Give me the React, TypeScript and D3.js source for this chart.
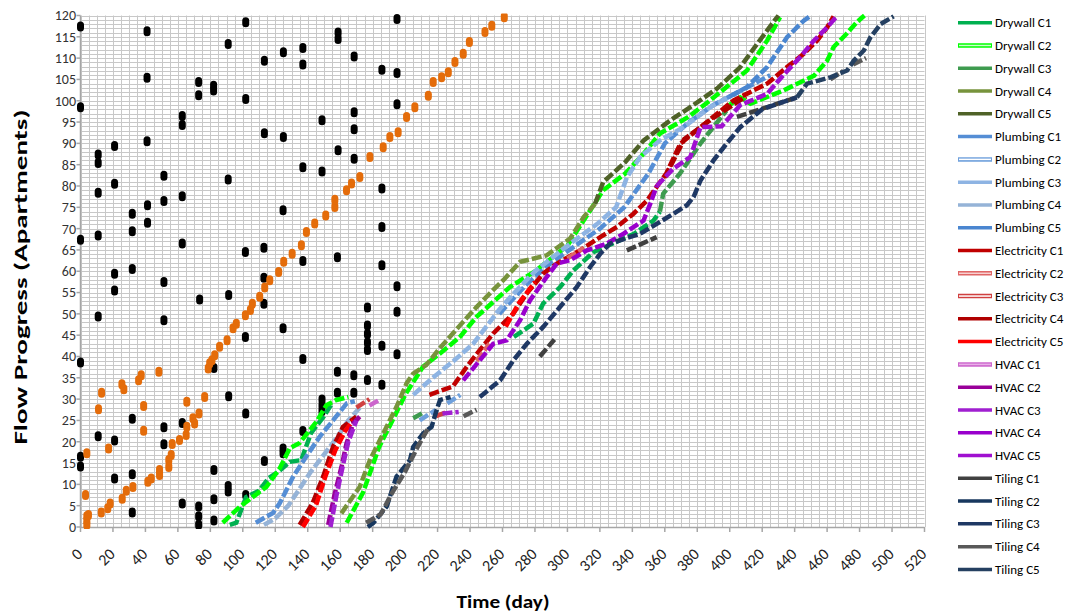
import React from 'react';
import * as d3 from 'd3';

type Pt = [number, number];

// ---------- axis ticks ----------
const xTicks: number[] = [0, 20, 40, 60, 80, 100, 120, 140, 160, 180, 200, 220, 240, 260, 280, 300, 320, 340, 360, 380, 400, 420, 440, 460, 480, 500, 520];
const yTicks: number[] = [0, 5, 10, 15, 20, 25, 30, 35, 40, 45, 50, 55, 60, 65, 70, 75, 80, 85, 90, 95, 100, 105, 110, 115, 120];

// ---------- scattered markers ----------
const blackDots: Pt[] = [
  [0, 117.4], [41, 116.3], [41, 105.4], [0, 98.5], [10.9, 87.4], [10.9, 85.4], [21, 89.4], [41, 90.5],
  [72.8, 104.4], [72.8, 101.3], [82, 103.5], [82, 102.4], [62.7, 96.4], [62.7, 94.3], [91, 113.3], [101.8, 118.4],
  [101.8, 100.4], [113.3, 109.4], [125, 111.4], [113.3, 92.4], [125, 91.5], [51.4, 82.4], [91, 81.5],
  [10.9, 78.4], [21, 80.5], [62.7, 77.6],
  [137, 112.4], [137, 108.5], [158.7, 116], [158.7, 114.5], [168.6, 110.4], [195, 119.2], [185.7, 107.3],
  [195, 106.5], [195, 99.2], [168.6, 97.3], [168.6, 93.3], [148.8, 95.4], [137, 84.4], [148.8, 83.4],
  [158.7, 88.4], [168.6, 86.4], [185.7, 79.4],
  [124.8, 74.3], [101.6, 64.5], [113, 65.5], [113, 58.5], [113, 52.4], [137, 62.4], [158.3, 63.3],
  [185.7, 70.4], [185.7, 61.4], [195, 56.5], [195, 50.5], [91.3, 54.4], [73.4, 53.4], [124.8, 46.6],
  [101.6, 44.6], [137, 39.4], [82.2, 37.3], [176.8, 51.5], [176.8, 47.3], [176.8, 45.3], [176.8, 43.3],
  [176.8, 41.5], [185.7, 42.5], [195, 40.5], [91.3, 30.7], [158.3, 36.4], [158.3, 31.5], [168.4, 35.6],
  [168.4, 31.5], [176.8, 34.5], [185.7, 33.4], [148.8, 29.9], [148.8, 28.5], [148.8, 27.2], [137, 22.5],
  [124.8, 18.4], [124.8, 17.3],
  [0, 16.5], [0, 14.2], [10.9, 21.3], [21, 20.3], [21, 11.4], [31.9, 25.4], [31.9, 12.4], [31.9, 3.4],
  [51.4, 23.4], [51.4, 19.4], [62.7, 24.4], [62.7, 5.5], [72.8, 4.8], [72.8, 2.5], [72.8, 0.5], [82.2, 13.4],
  [82.2, 6.5], [82.2, 1.5], [91, 9.6], [91, 8.3], [101.8, 26.6], [101.8, 7.5], [113.3, 15.5],
  [31.9, 73.5], [41.3, 75.5], [51.4, 76.5], [41.3, 71.4], [31.9, 69.4], [10.9, 68.4], [0, 67.4], [62.7, 66.5],
  [31.9, 60.5], [21, 59.4], [21, 55.5], [51.4, 57.5], [10.9, 49.4], [51.4, 48.5], [0, 38.6],
];

const orangeDots: Pt[] = [
  [3.1, 7.5], [3.9, 17.3], [3.9, 2.5], [3.9, 1.5], [3.9, 0.5], [4.9, 2.8], [11.1, 27.6], [13, 31.5],
  [12.8, 3.4], [16.8, 4.4], [18.3, 5.5], [17.3, 18.4], [25.7, 6.6], [28.2, 8.5], [25.5, 33.5], [26.7, 32.3],
  [32.3, 9.4], [35.8, 34.4], [37.4, 35.6], [38.9, 28.4], [38.9, 22.6], [41.5, 10.6], [43.6, 11.4], [48.3, 36.4],
  [48.7, 13.4], [48.7, 12.2], [54.4, 15.7], [54.4, 14.1], [55.9, 16.9], [56.5, 19.5], [61, 20.4], [65.1, 21.6],
  [65.5, 23.5], [65.5, 29.4], [69.3, 25.5], [70.3, 24.3], [73, 26.6], [76.5, 30.5], [78.7, 37.2], [79.6, 38.4],
  [81, 39.1], [82.7, 40.3], [85.7, 42.3], [90.3, 43.8], [94, 46.6], [96, 47.7], [101.6, 49.7], [104.7, 50.9],
  [105.9, 52.4], [110.4, 54], [113.5, 56.2], [116.6, 57.9], [122.1, 59.8], [125.2, 62.2], [130.4, 64.1],
  [136.1, 66.1], [139.2, 69.2], [144.3, 71.2], [151.1, 73.1], [156.7, 75.1], [156.7, 76.8], [163.9, 79],
  [167, 80.6], [172.1, 82.1], [178.3, 86.8], [186.5, 89.1], [190.6, 91.5], [195.7, 92.6], [200.9, 96.2],
  [206, 98.5], [214.3, 101.2], [217.3, 104.4], [222.5, 105.5], [226.6, 106.7], [230.7, 109.1], [235.8, 111],
  [239.6, 113.8], [249.2, 116.1], [253.4, 117.6], [261.1, 119.6],
];

// ---------- crew series (runs of [day, apartment]) ----------
const drywallC1: Pt[][] = [
  [[92, 0.5], [96, 1], [102, 7], [110, 8.5], [116, 11.5], [122, 13], [129, 15.3], [136, 15.7], [142, 22], [150, 26], [155, 29]],
  [[267, 44.6], [279, 47.7], [285, 52.4], [295.5, 56.3], [303.7, 60.2], [316, 64.5], [328, 66.5], [341, 68.8], [353, 71.9], [357, 74]],
];
const drywallC2: Pt[][] = [
  [[87.6, 1], [98, 4.7], [106, 7], [114.5, 9.4], [122.8, 13.8], [129, 18.5], [135, 19.7], [145.4, 24.7], [151.5, 28.6], [157.7, 29.8], [165, 30.5]],
  [[164, 1], [174, 8], [184, 18.8], [193.5, 26], [200, 31], [211, 37.6], [221.5, 40.7], [233.8, 44.6], [244, 49.3], [264.6, 56.3], [280, 60], [300, 66], [322, 79], [335.6, 82.9], [347, 87.6], [357, 92.3], [374.5, 96.2], [388, 100.1], [410.6, 107.1], [423, 114.1], [431, 119.6]],
  [[398, 98.5], [406.5, 100.8], [412.7, 99.3], [433, 102.4], [452, 105.9], [460, 109.4], [464, 112.6], [472, 115.7], [478.5, 118.5], [483, 120]],
];
const drywallC3: Pt[][] = [
  [[357, 74], [359, 78.2], [369.5, 83], [382, 90], [398, 97.7]],
  [[205, 25.5], [212, 27]],
];
const drywallC4: Pt[][] = [
  [[160.7, 3.2], [172, 9.4], [178.3, 15.7], [188.6, 23.5], [194.7, 28.2], [200.9, 33.7], [205, 36], [213, 38], [221.5, 42], [233.8, 47.3], [244, 51.6], [254, 55.5], [260.5, 57.9], [270.8, 62.2], [287, 63.7], [301.7, 67.7], [310, 72.7], [317, 75.8]],
];
const drywallC5: Pt[][] = [
  [[317, 75.8], [322, 80.9], [335.6, 85.6], [347, 90.7], [363.4, 95.4], [375.7, 98.5], [392, 102.8], [406.5, 107.9], [416.8, 113.3], [427, 118.5], [430, 120]],
];
const plumbingC1: Pt[][] = [
  [[108, 1], [118.6, 3.3], [122.8, 5.6], [131, 11.8], [139, 16.5], [147.4, 21.2], [155.6, 25], [164, 29], [169, 29.5]],
  [[258, 50], [275, 57], [290, 62], [305, 66], [320, 70], [335, 75], [350, 83], [360, 90], [375, 95], [390, 99], [410, 103], [425, 106]],
];
const plumbingC2: Pt[][] = [
  [[209, 25], [219, 27.5]],
  [[226, 29], [234, 31]],
];
const plumbingC3: Pt[][] = [
  [[205, 31], [217, 35], [230, 39], [242, 43], [250, 47], [258, 51], [265, 54], [280, 60], [300, 66], [318, 71], [330, 75], [336.6, 82], [344.8, 86.8], [357, 90.7], [371.6, 93.8], [388, 98.5], [400, 101]],
];
const plumbingC4: Pt[][] = [
  [[113, 0.5], [120, 2], [128, 5], [135, 9], [142, 13], [150, 17], [158, 21], [165, 25], [172, 28]],
];
const plumbingC5: Pt[][] = [
  [[400, 101], [410.6, 103.2], [423, 107.9], [435.3, 114.9], [445.6, 118.8], [450, 120]],
];
const electricityC1: Pt[][] = [
  [[215, 31], [229.5, 33], [238, 37.6], [246, 41.5], [254.3, 45.4], [266.7, 50.1], [275, 54.8], [285.2, 59.5], [293.5, 61.8], [307.8, 64.9], [320.2, 68], [330.5, 70.4], [340.7, 73.5], [349, 76.6], [361, 83], [369.5, 89.9], [382, 93.8], [402.4, 100.1], [423, 104], [435.3, 107.9], [445.6, 111], [453.8, 114.1], [460, 117.2], [464, 119.8]],
];
const electricityC2: Pt[][] = [
  [[244, 39], [252, 43]],
  [[300, 63], [310, 65.5]],
];
const electricityC3: Pt[][] = [
  [[170, 28], [178, 30]],
  [[219, 26], [226, 27]],
];
const electricityC4: Pt[][] = [
  [[135, 0.5], [143, 5.6], [149.5, 11.8], [155.6, 18.8], [161.8, 23.5], [170, 25.9]],
  [[360, 82], [372, 91], [390, 96], [410, 101]],
];
const electricityC5: Pt[][] = [
  [[137, 0], [145, 5], [151, 12], [157, 18], [163, 22.5], [168, 25]],
  [[262, 47], [270, 52.5], [280, 57.5]],
];
const hvacC1: Pt[][] = [
  [[178, 28.5], [185, 30]],
];
const hvacC2: Pt[][] = [
  [[152.6, 0.5], [156.7, 7.9], [160.8, 14.1], [163.9, 19.6], [168, 24.3], [172, 25.9]],
];
const hvacC3: Pt[][] = [
  [[154, 0], [158, 8], [162, 15], [165, 20], [170, 25]],
  [[223, 26.6], [233, 27]],
];
const hvacC4: Pt[][] = [
  [[235.8, 34.4], [246, 39.1], [254.3, 43], [262.6, 43.8], [270.8, 48.5], [277, 53.2], [287.3, 58.7], [293.5, 61.8], [301.7, 62.6], [312, 64.9], [324.3, 66.5], [334.6, 68.8], [346.9, 71.9], [351, 75.8], [355, 80]],
];
const hvacC5: Pt[][] = [
  [[355, 80], [365, 84], [375.7, 86.8], [382, 93.8], [395, 94], [406.5, 99], [423, 101.6], [433, 106], [443.6, 110.3], [451.8, 114.1], [460, 117.2], [466, 119.8]],
];
const tilingC1: Pt[][] = [
  [[336.6, 64.9], [355, 68]],
  [[404.4, 96.2], [441.4, 100.8]],
  [[283, 40], [292, 44]],
];
const tilingC2: Pt[][] = [
  [[177, 0], [180.3, 0.9], [188.6, 4.8], [194.7, 11.8], [203, 15.7], [205, 18.8], [211.2, 22], [216.3, 23.5], [219.4, 27.4], [221.5, 29.8], [228, 30.5]],
];
const tilingC3: Pt[][] = [
  [[246, 30.5], [254, 33], [258.5, 34.4], [266.7, 39.1], [275, 43], [285.2, 47], [295.4, 51.6], [305.8, 56.3], [314, 61], [320.2, 64.1], [326.3, 66.5], [344.8, 68.8], [365.4, 73.5], [373.6, 75.5], [377.7, 77.4], [382, 81.3], [390, 86], [398, 89.9], [406.5, 93.8], [420, 98], [441.4, 100.8]],
];
const tilingC4: Pt[][] = [
  [[176, 1], [185, 3], [192, 8], [200, 13], [208, 19], [214, 23]],
  [[236, 26], [244, 27.5]],
  [[462, 105], [470, 107]],
  [[476, 108.5], [484, 110]],
];
const tilingC5: Pt[][] = [
  [[441.4, 100.8], [447.6, 104], [462, 105.5], [472.3, 107.1], [476.4, 109.4], [482.6, 111.8], [486.7, 114.9], [493, 118], [501, 119.8]],
];

const seriesNames: string[] = [
  'Drywall C1', 'Drywall C2', 'Drywall C3', 'Drywall C4', 'Drywall C5',
  'Plumbing C1', 'Plumbing C2', 'Plumbing C3', 'Plumbing C4', 'Plumbing C5',
  'Electricity C1', 'Electricity C2', 'Electricity C3', 'Electricity C4', 'Electricity C5',
  'HVAC  C1', 'HVAC  C2', 'HVAC  C3', 'HVAC  C4', 'HVAC  C5',
  'Tiling C1', 'Tiling C2', 'Tiling C3', 'Tiling C4', 'Tiling C5',
];
const seriesData: Pt[][][] = [
  drywallC1, drywallC2, drywallC3, drywallC4, drywallC5,
  plumbingC1, plumbingC2, plumbingC3, plumbingC4, plumbingC5,
  electricityC1, electricityC2, electricityC3, electricityC4, electricityC5,
  hvacC1, hvacC2, hvacC3, hvacC4, hvacC5,
  tilingC1, tilingC2, tilingC3, tilingC4, tilingC5,
];

// styles (kept apart from data)
const seriesColors: string[] = [
  '#00B050', '#00FF00', '#3E9B4F', '#77933C', '#4F6228',
  '#558ED5', '#6FA0DC', '#8EB4E3', '#95B3D7', '#4A86D0',
  '#C00000', '#E06666', '#D04040', '#B00000', '#FF0000',
  '#CC66CC', '#990099', '#A01FD0', '#9900CC', '#A010D0',
  '#404040', '#17375E', '#1F3864', '#595959', '#254061',
];
const legendInner: (string | null)[] = [
  null, '#CCFFCC', null, null, null,
  null, '#FFFFFF', null, null, null,
  null, '#F8D0D0', '#FFFFFF', null, null,
  '#E8B0E8', null, null, null, null,
  null, null, null, null, null,
];

const FONT = "Carlito, Calibri, 'Open Sans', sans-serif";

export default function App() {
  const W = 1068, H = 614;
  const x = d3.scaleLinear().domain([0, 520]).range([80.5, 924.5]);
  const y = d3.scaleLinear().domain([0, 120]).range([527, 15.5]);
  const line = d3.line<Pt>().x(d => x(d[0])).y(d => y(d[1]));

  const vGrid = d3.range(0, 521, 5);
  const hGrid = d3.range(0, 121, 1);

  const legendY = (i: number) => 22.7 + i * 22.78;

  return (
    <svg width={W} height={H} style={{ position: 'absolute', left: 0, top: 0, background: '#fff' }} fontFamily={FONT}>
      <defs>
        <clipPath id="plot">
          <rect x={x(0) - 6} y={y(120) - 2} width={x(520) - x(0) + 12} height={y(0) - y(120) + 4} />
        </clipPath>
      </defs>
      {/* grid */}
      <g stroke="#c8c8c8" strokeWidth={1}>
        {hGrid.map(v => (
          <line key={'h' + v} x1={x(0)} x2={x(520)} y1={Math.round(y(v)) + 0.5} y2={Math.round(y(v)) + 0.5} />
        ))}
        {vGrid.map(v => (
          <line key={'v' + v} x1={Math.round(x(v)) + 0.5} x2={Math.round(x(v)) + 0.5} y1={y(120)} y2={y(0)} />
        ))}
      </g>
      {/* axes */}
      <line x1={x(0)} x2={x(520)} y1={y(0) + 0.5} y2={y(0) + 0.5} stroke="#a6a6a6" strokeWidth={1.5} />
      <line x1={x(0)} x2={x(0)} y1={y(120)} y2={y(0)} stroke="#a6a6a6" strokeWidth={1.5} />
      {xTicks.map(t => (
        <line key={'xt' + t} x1={x(t)} x2={x(t)} y1={y(0)} y2={y(0) + 5} stroke="#a6a6a6" strokeWidth={1.5} />
      ))}
      {yTicks.map(t => (
        <line key={'yt' + t} x1={x(0) - 4} x2={x(0)} y1={y(t)} y2={y(t)} stroke="#a6a6a6" strokeWidth={1.5} />
      ))}
      {/* tick labels */}
      {yTicks.map(t => (
        <text key={'yl' + t} x={76} y={y(t)} dy="0.35em" textAnchor="end" fontSize={14} fill="#333">{t}</text>
      ))}
      {xTicks.map(t => (
        <text key={'xl' + t} transform={`translate(${x(t) - 1},${551}) rotate(-45)`} dy="0.35em" textAnchor="end" fontSize={16} fill="#222">{t}</text>
      ))}
      {/* axis titles */}
      <text transform={`translate(27,${277}) rotate(-90)`} textAnchor="middle" fontSize={17} fontWeight="bold" fill="#000" textLength={335} lengthAdjust="spacingAndGlyphs">Flow Progress (Apartments)</text>
      <text x={503} y={608} textAnchor="middle" fontSize={17} fontWeight="bold" fill="#000" textLength={93} lengthAdjust="spacingAndGlyphs">Time (day)</text>

      <g clipPath="url(#plot)">
        {/* scatter markers */}
        {blackDots.map((d, i) => (
          <rect key={'b' + i} x={x(d[0]) - 3.5} y={y(d[1]) - 5} width={7} height={10} rx={3.5} fill="#000" />
        ))}
        {orangeDots.map((d, i) => (
          <rect key={'o' + i} x={x(d[0]) - 3.5} y={y(d[1]) - 5} width={7} height={10} rx={3.5} fill="#E46C0A" />
        ))}
        {/* crew series */}
        {seriesData.map((runs, si) => (
          <g key={'s' + si} fill="none" stroke={seriesColors[si]} strokeWidth={4.5} strokeDasharray="10 3">
            {runs.map((run, ri) => (
              <path key={ri} d={line(run) || ''} />
            ))}
          </g>
        ))}
      </g>

      {/* legend */}
      {seriesNames.map((name, i) => (
        <g key={'lg' + i}>
          <line x1={958} x2={992} y1={legendY(i)} y2={legendY(i)} stroke={seriesColors[i]} strokeWidth={legendInner[i] ? 4.5 : 3.5} />
          {legendInner[i] && (
            <line x1={959} x2={991} y1={legendY(i)} y2={legendY(i)} stroke={legendInner[i] as string} strokeWidth={1.5} />
          )}
          <text x={995} y={legendY(i)} dy="0.35em" fontSize={13} fill="#000">{name}</text>
        </g>
      ))}
    </svg>
  );
}
